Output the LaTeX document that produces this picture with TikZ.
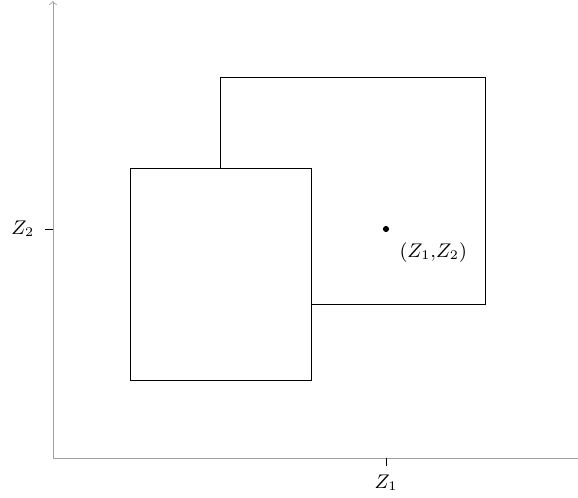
\documentclass[tikz,border=0pt]{standalone}
\usepackage{amsmath}
\usepackage{tikz}
\usetikzlibrary{positioning}
\definecolor{axisgray}{HTML}{A0A0A0}

\begin{document}
\begin{tikzpicture}[
  x=0.016cm, y=-0.016cm,
  every node/.style={font=\small},
  axis/.style={line width=0.4pt,color=axisgray},
  region/.style={draw=black,line width=0.4pt},
  tick/.style={line width=0.4pt,color=black},
  pt/.style={circle,fill=black,inner sep=0pt,minimum size=2.8pt}
]
\useasboundingbox (0,0) rectangle (578,498);
\coordinate (origin) at (53,458);
\coordinate (ytop) at (53,1);
\coordinate (xend) at (578,458);
\draw[axis,->] (origin) -- (ytop);
\draw[axis] (origin) -- (xend);
% the two boxes
\draw[region] (220,77) rectangle (485,304);
\draw[region,fill=white] (130,168) rectangle (311,380);
% ticks and labels
\coordinate (xt) at (386,458);
\coordinate (yt) at (53,229);
\draw[tick] (xt) -- ++(0,8);
\draw[tick] (yt) -- ++(-8,0);
\node[below=4pt of xt] (z1) {\(Z_1\)};
\node[left=5pt of yt] (z2) {\(Z_2\)};
\node[pt] (p) at (386,229) {};
\node[below right=1.5pt and 1.5pt of p] (plab) {\((Z_1{,}Z_2)\)};
\end{tikzpicture}
\end{document}
